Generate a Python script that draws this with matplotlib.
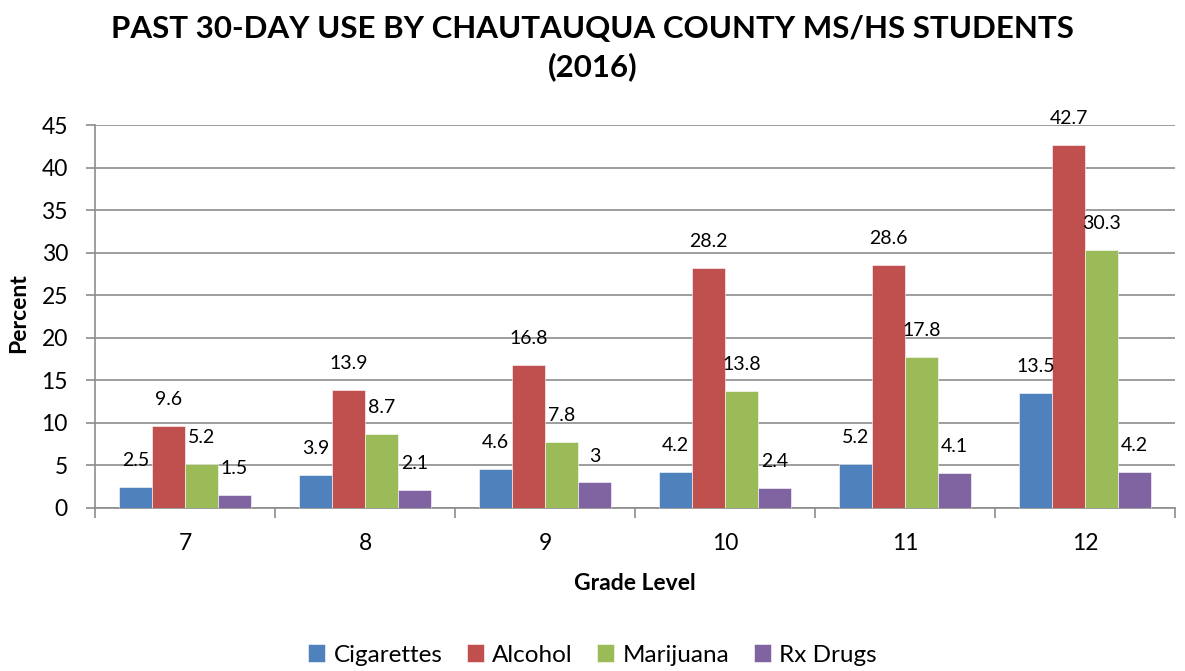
import matplotlib
matplotlib.use("Agg")
import matplotlib.pyplot as plt
import numpy as np

plt.rcParams['font.family'] = ['Lato', 'DejaVu Sans']

grades = ["7", "8", "9", "10", "11", "12"]
series_names = ["Cigarettes", "Alcohol", "Marijuana", "Rx Drugs"]
cigarettes = [2.5, 3.9, 4.6, 4.2, 5.2, 13.5]
alcohol = [9.6, 13.9, 16.8, 28.2, 28.6, 42.7]
marijuana = [5.2, 8.7, 7.8, 13.8, 17.8, 30.3]
rx_drugs = [1.5, 2.1, 3, 2.4, 4.1, 4.2]
colors = ["#4F81BD", "#C0504D", "#9BBB59", "#8064A2"]

fig = plt.figure(figsize=(11.85, 6.71), dpi=100)
ax = fig.add_axes([95/1185, 1 - 508/671, 1080/1185, 383/671])

x = np.arange(len(grades))
w = 0.183
data = [cigarettes, alcohol, marijuana, rx_drugs]
for i, (name, vals, c) in enumerate(zip(series_names, data, colors)):
    pos = x + (i - 1.5) * w
    ax.bar(pos, vals, width=w, color=c, label=name, zorder=3,
           edgecolor='white', linewidth=0.4)
    for p, v in zip(pos, vals):
        ax.annotate(f"{v:g}", (p, v), xytext=(0, 19), textcoords='offset points',
                    ha='center', va='center', fontsize=14, zorder=4)

ax.set_xlim(-0.5, len(grades) - 0.5)
ax.set_ylim(0, 45)
ax.set_yticks(np.arange(0, 46, 5))
ax.yaxis.grid(True, color='#8c8c8c', linewidth=1.2, zorder=0)
ax.set_xticks(x)
ax.set_xticklabels(grades)
ax.set_xticks(np.arange(-0.5, len(grades)), minor=True)
ax.tick_params(axis='x', which='major', length=0, labelsize=16.5, pad=18)
ax.tick_params(axis='x', which='minor', length=7, color='#8c8c8c', width=1.2)
ax.tick_params(axis='y', length=6.5, color='#8c8c8c', width=1.2, labelsize=16.5, pad=13)
for s in ['top', 'right']:
    ax.spines[s].set_visible(False)
for s in ['left', 'bottom']:
    ax.spines[s].set_color('#8c8c8c')
    ax.spines[s].set_linewidth(1.2)

ax.set_ylabel("Percent", fontsize=16.5, fontweight='bold')
ax.yaxis.set_label_coords(-0.061, 0.51)
ax.set_xlabel("Grade Level", fontsize=16.5, fontweight='bold', labelpad=14)

fig.text(0.5, 1 - 48/671, "PAST 30-DAY USE BY CHAUTAUQUA COUNTY MS/HS STUDENTS\n(2016)",
         ha='center', va='center', fontsize=22.5, fontweight='bold', linespacing=1.35)

fig.legend(loc='center', bbox_to_anchor=(0.5, 1 - 655/671), ncol=4, frameon=False,
           fontsize=17.5, handlelength=0.7, handleheight=0.7, columnspacing=1.0,
           handletextpad=0.35)

fig.savefig("out.png", dpi=100)
